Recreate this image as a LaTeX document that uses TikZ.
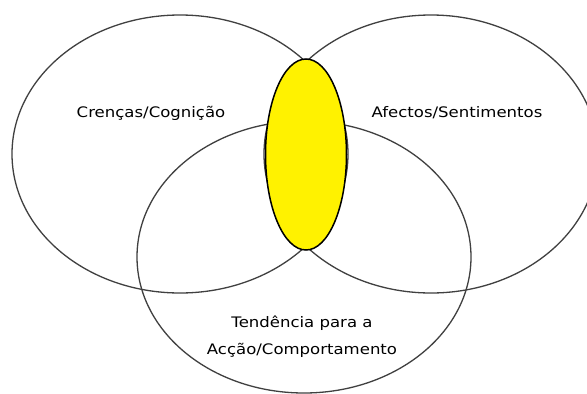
\documentclass[tikz,border=0pt]{standalone}
\usepackage{fontspec}
\setmainfont{DejaVu Sans}[FakeStretch=1.14]
\usetikzlibrary{shapes.geometric}
\begin{document}
\begin{tikzpicture}[x=1pt,y=-1pt,
  circ/.style={ellipse, draw=black!75, line width=1.3pt, inner sep=0pt},
  core/.style={ellipse, draw=black, fill=yellow, line width=1.5pt, inner sep=0pt},
  lbl/.style={font=\fontsize{14.5}{27}\selectfont, text=black, align=center, inner sep=0pt}]
\useasboundingbox (0,0) rectangle (587,394);
\fill[white] (0,0) rectangle (587,394);
\node[circ, minimum width=336pt, minimum height=278pt] (cog) at (180,154) {};
\node[circ, minimum width=334pt, minimum height=278pt] (afe) at (431,154) {};
\node[circ, minimum width=334pt, minimum height=272pt] (acc) at (304,257) {};
\node[core, minimum width=81pt, minimum height=191pt] (att) at (306,154.5) {};
\node[lbl] (tcog) at (151,113) {Crenças/Cognição};
\node[lbl] (tafe) at (457,113) {Afectos/Sentimentos};
\node[lbl, anchor=north] (tacc) at (302,316) {Tendência para a\\Acção/Comportamento};
\end{tikzpicture}
\end{document}
